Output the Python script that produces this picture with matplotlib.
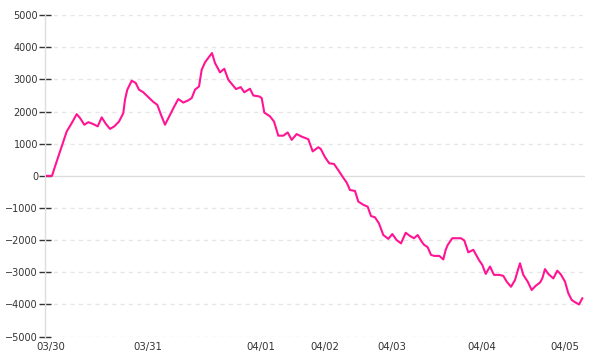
import matplotlib
matplotlib.use("Agg")
import matplotlib.pyplot as plt

# =============================
# DATA
# =============================
# sample position along the (gapped) time axis
t = [2, 7, 10, 16.7, 21.7, 26.7, 31.7, 35, 39.3, 43.3, 48.3, 52.7, 56.7, 61, 65,
     69.3, 74, 78.3, 80, 82.3, 86.7, 90.7, 94, 98.3, 103.3, 108.3, 112.3, 116,
     120, 125, 129.3, 133.3, 138.3, 143.3, 146.7, 150, 154, 156.7, 160, 163.3,
     167, 170, 175, 179.3, 183.3, 191, 195.7, 199.3, 205, 208.3, 214.3, 216.7,
     219.3, 225, 229, 233.3, 238.3, 242.7, 246.7, 251.7, 256.7, 263.3, 267.7,
     273.3, 275.7, 280, 284.3, 289, 294.3, 298.3, 301.7, 305, 310, 313.3, 318.3,
     322.7, 326, 330, 334, 338.3, 343.3, 347.3, 351.7, 356, 360.7, 365, 369,
     372.7, 376.7, 379.3, 382.7, 386, 389.3, 394.3, 398.3, 400.7, 402.7, 407.3,
     416, 419.3, 423.3, 428.3, 434, 437.3, 440.7, 445, 449, 454.3, 458.3, 461.7,
     466, 470, 472.7, 475, 478.3, 482.7, 486.7, 490.7, 495, 497.3, 500, 503.3,
     508.3, 512.3, 515.7, 520, 523.3, 526.7, 530, 534, 537.3]
value = [0, 0, 290, 910, 1380, 1640, 1920, 1800, 1590, 1670, 1610, 1540, 1820,
         1610, 1460, 1540, 1690, 1950, 2370, 2680, 2960, 2890, 2680, 2600, 2450,
         2300, 2210, 1900, 1590, 1900, 2160, 2390, 2280, 2350, 2420, 2680, 2780,
         3300, 3530, 3670, 3820, 3510, 3220, 3330, 2990, 2700, 2760, 2600, 2710,
         2500, 2470, 2420, 1970, 1850, 1690, 1250, 1250, 1350, 1120, 1300, 1220,
         1140, 760, 890, 840, 580, 390, 370, 130, -60, -210, -440, -470, -800,
         -900, -960, -1250, -1290, -1480, -1840, -1960, -1810, -2000, -2100,
         -1770, -1870, -1940, -1840, -2050, -2150, -2220, -2460, -2490, -2490,
         -2600, -2300, -2150, -1940, -1940, -2010, -2380, -2300, -2620, -2770,
         -3050, -2820, -3080, -3080, -3110, -3290, -3450, -3240, -2950, -2720,
         -3080, -3290, -3550, -3420, -3320, -3190, -2900, -3050, -3190, -2950,
         -3060, -3290, -3650, -3860, -3930, -4000, -3810]

tick_pos = [5.5, 102.5, 216.3, 280.3, 347, 436.7, 520.3]
tick_labels = ["03/30", "03/31", "04/01", "04/02", "04/03", "04/04", "04/05"]
y_ticks = [-5000, -4000, -3000, -2000, -1000, 0, 1000, 2000, 3000, 4000, 5000]

# =============================
# PLOT
# =============================
fig = plt.figure(figsize=(6, 3.6), dpi=100)
ax = fig.add_axes([0.075, 0.065, 0.9, 0.893])

ax.set_xlim(0, 540)
ax.set_ylim(-5000, 5000)

for yv in y_ticks:
    if yv == 0:
        ax.axhline(0, color="#dddddd", lw=1, zorder=1)
    else:
        ax.axhline(yv, color="#e6e6e6", lw=1, ls=(0, (3, 3)), zorder=1)

ax.plot(t, value, color="#ff1493", lw=1.5, zorder=3)

for s in ["top", "right", "bottom"]:
    ax.spines[s].set_visible(False)
ax.spines["left"].set_color("#dddddd")
ax.spines["left"].set_linewidth(1)

ax.set_yticks(y_ticks)
ax.set_yticklabels([str(v).replace("-", "\u2212") for v in y_ticks])
ax.tick_params(axis="y", direction="inout", length=8, width=1, color="#333333",
               labelsize=7, labelcolor="#333333", pad=1)

ax.set_xticks(tick_pos)
ax.set_xticklabels(tick_labels)
ax.tick_params(axis="x", length=0, labelsize=7.3, labelcolor="#333333", pad=4)

fig.savefig("out.png", dpi=100)
